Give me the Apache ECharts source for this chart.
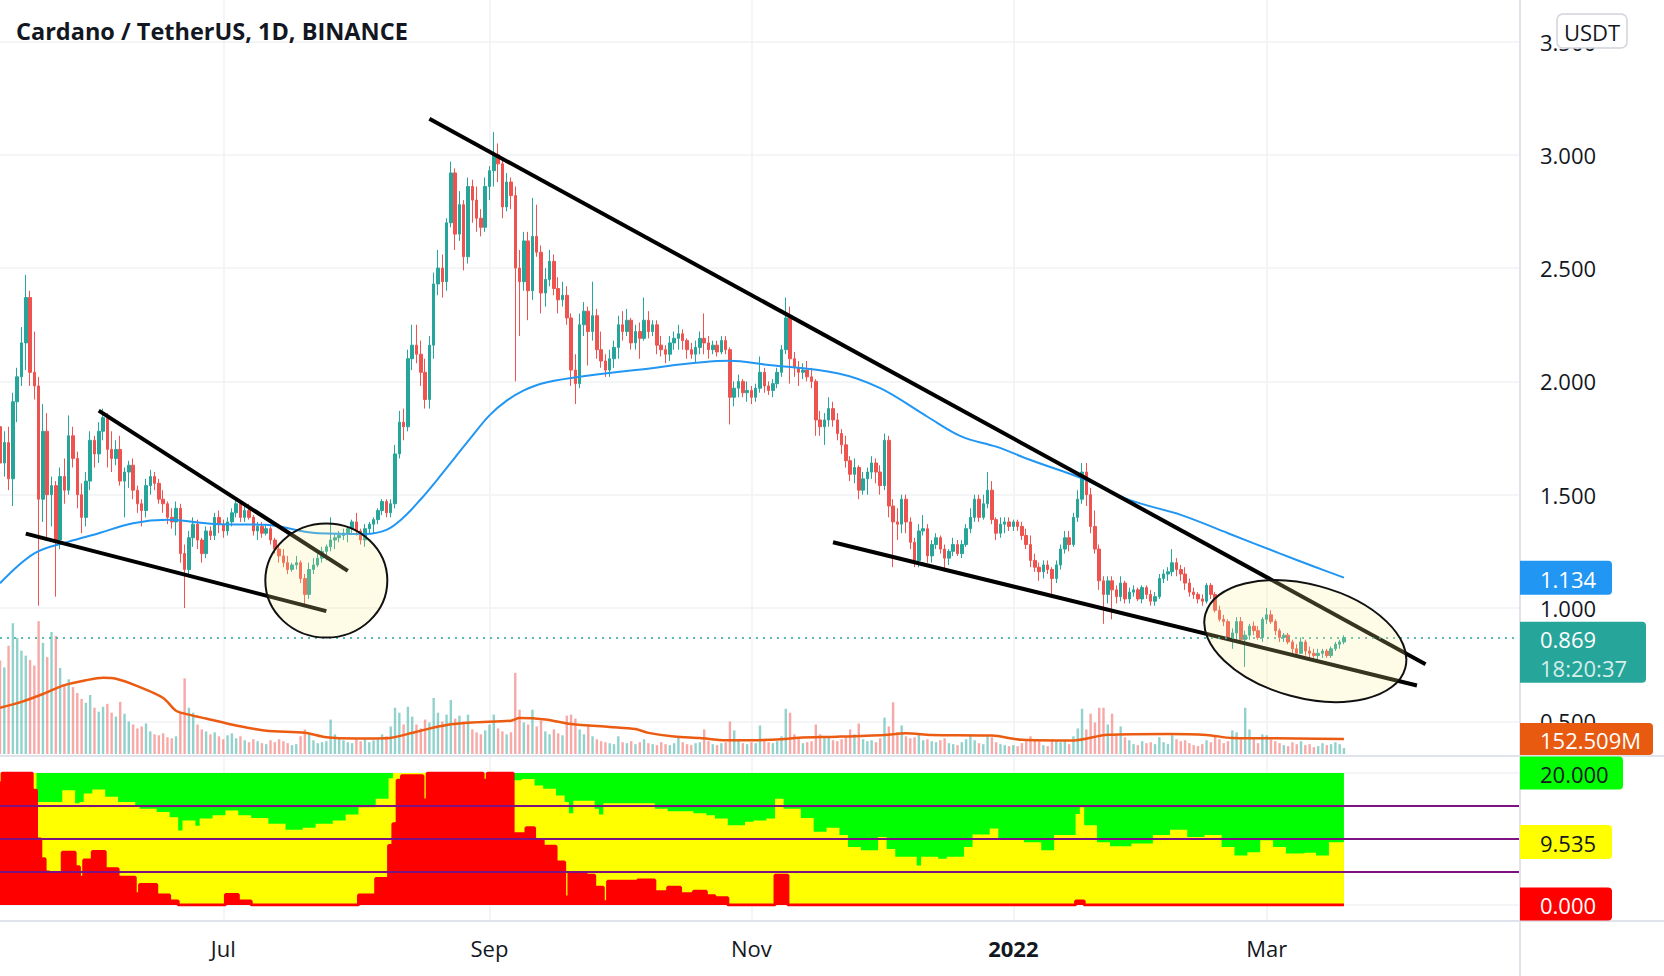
<!DOCTYPE html>
<html>
<head>
<meta charset="utf-8">
<script src="https://cdn.jsdelivr.net/npm/echarts@6/dist/echarts.min.js"></script>
<style>
html,body{margin:0;padding:0;background:#ffffff;}
#c{width:1664px;height:976px;}
</style>
</head>
<body>
<div id="c"></div>
<script>
// ---------------- DATA ----------------
const startDate = '2021-05-10';      // first (half visible) daily candle
const axisEndDate = '2022-04-29';    // time scale runs on to the price-scale border
const titleText = 'Cardano / TetherUS, 1D, BINANCE';
const currencyText = 'USDT';
const countdownText = '18:20:37';

// daily candles [open, high, low, close]
const candles = [
[1.80,1.86,1.52,1.64],[1.64,1.78,1.58,1.73],[1.73,1.80,1.52,1.57],[1.57,1.95,1.45,1.91],[1.91,2.06,1.82,2.02],[2.02,2.24,1.98,2.17],[2.17,2.47,2.05,2.37],[2.37,2.40,1.98,2.04],[2.04,2.22,1.92,1.98],[1.98,2.02,1.01,1.48],
[1.48,1.90,1.38,1.78],[1.78,1.86,1.30,1.50],[1.50,1.58,1.36,1.54],[1.54,1.56,1.05,1.30],[1.30,1.62,1.26,1.58],[1.58,1.66,1.46,1.52],[1.52,1.85,1.50,1.76],[1.76,1.80,1.62,1.66],[1.66,1.69,1.44,1.50],[1.50,1.55,1.33,1.40],
[1.40,1.60,1.36,1.56],[1.56,1.78,1.52,1.74],[1.74,1.76,1.62,1.68],[1.68,1.82,1.64,1.78],[1.78,1.88,1.74,1.84],[1.84,1.86,1.62,1.70],[1.70,1.78,1.60,1.66],[1.66,1.74,1.63,1.70],[1.70,1.76,1.54,1.56],[1.56,1.62,1.40,1.60],
[1.60,1.65,1.53,1.63],[1.63,1.66,1.48,1.52],[1.52,1.54,1.42,1.46],[1.46,1.48,1.36,1.43],[1.43,1.57,1.40,1.54],[1.54,1.61,1.50,1.58],[1.58,1.60,1.52,1.55],[1.55,1.57,1.46,1.48],[1.48,1.52,1.42,1.46],[1.46,1.47,1.37,1.40],
[1.40,1.44,1.35,1.38],[1.38,1.47,1.32,1.44],[1.44,1.46,1.20,1.24],[1.24,1.28,1.00,1.17],[1.17,1.34,1.14,1.31],[1.31,1.40,1.27,1.37],[1.37,1.39,1.26,1.30],[1.30,1.31,1.20,1.24],[1.24,1.36,1.22,1.34],[1.34,1.36,1.30,1.32],
[1.32,1.42,1.30,1.40],[1.40,1.43,1.33,1.37],[1.37,1.39,1.31,1.34],[1.34,1.40,1.32,1.38],[1.38,1.44,1.36,1.42],[1.42,1.49,1.40,1.46],[1.46,1.47,1.38,1.40],[1.40,1.45,1.38,1.43],[1.43,1.46,1.39,1.40],[1.40,1.41,1.32,1.34],
[1.34,1.38,1.30,1.36],[1.36,1.38,1.31,1.33],[1.33,1.37,1.32,1.35],[1.35,1.36,1.28,1.30],[1.30,1.31,1.24,1.26],[1.26,1.28,1.20,1.23],[1.23,1.26,1.18,1.20],[1.20,1.23,1.15,1.17],[1.17,1.20,1.16,1.19],[1.19,1.23,1.17,1.20],
[1.20,1.21,1.11,1.13],[1.13,1.15,1.01,1.06],[1.06,1.20,1.04,1.17],[1.17,1.22,1.15,1.19],[1.19,1.24,1.18,1.22],[1.22,1.27,1.20,1.25],[1.25,1.28,1.21,1.27],[1.27,1.40,1.25,1.30],[1.30,1.33,1.26,1.31],[1.31,1.34,1.29,1.32],
[1.32,1.35,1.30,1.33],[1.33,1.36,1.29,1.35],[1.35,1.39,1.33,1.38],[1.38,1.42,1.32,1.34],[1.34,1.35,1.28,1.30],[1.30,1.37,1.27,1.35],[1.35,1.38,1.33,1.37],[1.37,1.40,1.33,1.39],[1.39,1.44,1.37,1.43],[1.43,1.48,1.41,1.47],
[1.47,1.48,1.40,1.42],[1.42,1.48,1.40,1.46],[1.46,1.72,1.44,1.68],[1.68,1.87,1.66,1.82],[1.82,1.88,1.74,1.80],[1.80,2.14,1.78,2.10],[2.10,2.25,2.05,2.16],[2.16,2.25,2.08,2.12],[2.12,2.18,1.98,2.04],[2.04,2.10,1.88,1.92],
[1.92,2.20,1.88,2.16],[2.16,2.48,2.10,2.43],[2.43,2.58,2.38,2.50],[2.50,2.56,2.37,2.44],[2.44,2.72,2.40,2.70],[2.70,2.97,2.68,2.92],[2.92,2.94,2.58,2.65],[2.65,2.84,2.62,2.78],[2.78,2.80,2.49,2.55],[2.55,2.90,2.52,2.86],
[2.86,2.89,2.70,2.80],[2.80,2.86,2.66,2.72],[2.72,2.76,2.64,2.68],[2.68,2.90,2.66,2.86],[2.86,2.95,2.80,2.93],[2.93,3.10,2.86,3.00],[3.00,3.05,2.88,2.96],[2.96,2.98,2.72,2.77],[2.77,2.92,2.75,2.88],[2.88,2.90,2.76,2.82],
[2.82,2.86,2.00,2.50],[2.50,2.58,2.20,2.44],[2.44,2.66,2.40,2.62],[2.62,2.66,2.27,2.40],[2.40,2.81,2.36,2.64],[2.64,2.78,2.55,2.57],[2.57,2.60,2.30,2.39],[2.39,2.50,2.33,2.45],[2.45,2.58,2.42,2.53],[2.53,2.56,2.38,2.41],
[2.41,2.46,2.30,2.36],[2.36,2.44,2.33,2.38],[2.38,2.42,2.25,2.28],[2.28,2.30,1.98,2.05],[2.05,2.12,1.90,1.99],[1.99,2.30,1.97,2.25],[2.25,2.35,2.20,2.31],[2.31,2.33,2.07,2.22],[2.22,2.44,2.18,2.29],[2.29,2.32,2.10,2.14],
[2.14,2.22,2.06,2.09],[2.09,2.12,2.02,2.05],[2.05,2.14,2.02,2.10],[2.10,2.18,2.06,2.15],[2.15,2.29,2.10,2.25],[2.25,2.31,2.18,2.22],[2.22,2.32,2.20,2.27],[2.27,2.28,2.14,2.17],[2.17,2.25,2.14,2.22],[2.22,2.26,2.10,2.19],
[2.19,2.37,2.18,2.27],[2.27,2.31,2.19,2.22],[2.22,2.27,2.20,2.25],[2.25,2.27,2.12,2.16],[2.16,2.20,2.11,2.14],[2.14,2.16,2.08,2.12],[2.12,2.20,2.09,2.17],[2.17,2.22,2.14,2.19],[2.19,2.25,2.14,2.21],[2.21,2.23,2.14,2.18],
[2.18,2.19,2.10,2.14],[2.14,2.17,2.10,2.12],[2.12,2.18,2.08,2.15],[2.15,2.22,2.12,2.19],[2.19,2.30,2.12,2.17],[2.17,2.20,2.10,2.14],[2.14,2.18,2.12,2.16],[2.16,2.18,2.11,2.13],[2.13,2.20,2.12,2.18],[2.18,2.20,2.12,2.14],
[2.14,2.15,1.81,1.93],[1.93,2.00,1.89,1.97],[1.97,2.03,1.93,2.00],[2.00,2.01,1.93,1.95],[1.95,2.00,1.91,1.96],[1.96,1.98,1.90,1.93],[1.93,1.99,1.91,1.97],[1.97,2.11,1.95,2.04],[2.04,2.06,1.95,1.98],[1.98,2.00,1.94,1.96],
[1.96,2.01,1.93,1.99],[1.99,2.06,1.97,2.04],[2.04,2.16,2.02,2.14],[2.14,2.37,2.12,2.28],[2.28,2.33,1.99,2.10],[2.10,2.13,2.02,2.06],[2.06,2.09,1.98,2.04],[2.04,2.08,2.01,2.05],[2.05,2.09,2.00,2.02],[2.02,2.06,1.97,2.00],
[2.00,2.01,1.76,1.83],[1.83,1.87,1.76,1.80],[1.80,1.86,1.72,1.83],[1.83,1.93,1.80,1.88],[1.88,1.91,1.80,1.83],[1.83,1.86,1.74,1.77],[1.77,1.79,1.68,1.72],[1.72,1.76,1.62,1.65],[1.65,1.67,1.56,1.59],[1.59,1.66,1.55,1.62],
[1.62,1.63,1.48,1.52],[1.52,1.60,1.50,1.57],[1.57,1.62,1.50,1.60],[1.60,1.67,1.57,1.64],[1.64,1.66,1.55,1.60],[1.60,1.63,1.50,1.54],[1.54,1.77,1.52,1.74],[1.74,1.76,1.40,1.45],[1.45,1.48,1.18,1.38],[1.38,1.44,1.30,1.37],
[1.37,1.50,1.33,1.48],[1.48,1.50,1.33,1.38],[1.38,1.40,1.26,1.29],[1.29,1.31,1.18,1.21],[1.21,1.37,1.18,1.34],[1.34,1.41,1.32,1.35],[1.35,1.37,1.20,1.23],[1.23,1.30,1.20,1.28],[1.28,1.33,1.26,1.31],[1.31,1.32,1.24,1.26],
[1.26,1.28,1.17,1.22],[1.22,1.26,1.19,1.25],[1.25,1.31,1.23,1.28],[1.28,1.30,1.23,1.24],[1.24,1.30,1.22,1.28],[1.28,1.37,1.27,1.35],[1.35,1.44,1.33,1.40],[1.40,1.50,1.38,1.48],[1.48,1.50,1.38,1.40],[1.40,1.50,1.39,1.46],
[1.46,1.60,1.44,1.52],[1.52,1.56,1.37,1.39],[1.39,1.40,1.30,1.33],[1.33,1.40,1.31,1.37],[1.37,1.40,1.33,1.38],[1.38,1.40,1.34,1.36],[1.36,1.39,1.34,1.38],[1.38,1.39,1.34,1.36],[1.36,1.38,1.30,1.32],[1.32,1.35,1.26,1.28],
[1.28,1.32,1.18,1.21],[1.21,1.24,1.16,1.18],[1.18,1.20,1.12,1.16],[1.16,1.21,1.13,1.19],[1.19,1.21,1.15,1.17],[1.17,1.18,1.06,1.13],[1.13,1.21,1.11,1.19],[1.19,1.28,1.17,1.26],[1.26,1.34,1.24,1.31],[1.31,1.34,1.25,1.28],
[1.28,1.42,1.27,1.40],[1.40,1.52,1.38,1.48],[1.48,1.64,1.46,1.60],[1.60,1.64,1.45,1.50],[1.50,1.53,1.33,1.36],[1.36,1.43,1.24,1.26],[1.26,1.28,1.08,1.12],[1.12,1.14,0.93,1.06],[1.06,1.14,1.02,1.12],[1.12,1.14,0.95,1.08],
[1.08,1.10,1.02,1.05],[1.05,1.14,1.03,1.11],[1.11,1.12,1.02,1.04],[1.04,1.09,1.02,1.07],[1.07,1.10,1.05,1.08],[1.08,1.09,1.03,1.04],[1.04,1.10,1.02,1.09],[1.09,1.10,1.04,1.06],[1.06,1.08,1.01,1.03],[1.03,1.07,1.01,1.05],
[1.05,1.15,1.04,1.13],[1.13,1.17,1.11,1.15],[1.15,1.18,1.12,1.16],[1.16,1.26,1.14,1.20],[1.20,1.22,1.14,1.17],[1.17,1.19,1.12,1.15],[1.15,1.18,1.08,1.11],[1.11,1.13,1.05,1.07],[1.07,1.09,1.04,1.06],[1.06,1.07,1.02,1.04],
[1.04,1.06,1.01,1.03],[1.03,1.11,1.02,1.10],[1.10,1.11,1.04,1.06],[1.06,1.07,0.98,0.99],[0.99,1.01,0.94,0.95],[0.95,0.97,0.92,0.94],[0.94,0.95,0.86,0.86],[0.86,0.91,0.82,0.89],[0.89,0.96,0.86,0.94],[0.94,0.96,0.85,0.86],
[0.86,0.90,0.74,0.88],[0.88,0.93,0.86,0.92],[0.92,0.94,0.88,0.90],[0.90,0.92,0.86,0.87],[0.87,0.96,0.85,0.95],[0.95,1.00,0.93,0.97],[0.97,0.99,0.93,0.94],[0.94,0.95,0.88,0.90],[0.90,0.91,0.85,0.87],[0.87,0.89,0.85,0.88],
[0.88,0.89,0.84,0.85],[0.85,0.86,0.80,0.82],[0.82,0.84,0.79,0.80],[0.80,0.87,0.80,0.85],[0.85,0.86,0.79,0.81],[0.81,0.83,0.78,0.80],[0.80,0.82,0.78,0.79],[0.79,0.82,0.77,0.80],[0.80,0.82,0.78,0.81],[0.81,0.82,0.78,0.79],
[0.79,0.83,0.78,0.82],[0.82,0.85,0.81,0.84],[0.84,0.86,0.82,0.85],[0.85,0.88,0.84,0.869]
];

// daily volume, millions of ADA
const volumes = [
950,880,1100,1330,1180,1050,1000,955,900,1350,
1130,985,1240,1200,875,700,760,680,620,560,
520,600,470,430,480,510,420,380,530,410,
330,300,260,280,310,230,200,190,210,170,
160,180,420,770,470,420,300,250,230,200,
220,180,150,190,210,160,180,140,120,150,
130,110,100,140,120,150,130,110,90,100,
180,250,200,140,110,120,130,350,200,170,
140,120,110,150,130,160,120,140,150,200,
180,280,470,420,300,480,380,300,260,350,
320,570,420,330,400,550,360,390,330,400,
250,220,200,240,300,400,260,230,200,220,
825,450,320,300,450,280,340,230,200,250,
210,190,390,400,360,250,200,300,180,150,
130,120,110,100,180,120,110,130,100,120,
150,110,100,90,120,100,90,110,180,120,
100,90,110,120,250,130,100,90,110,120,
330,240,150,110,100,120,110,290,150,120,
110,130,180,460,420,200,160,110,120,130,
300,200,170,180,140,130,150,170,250,200,
310,150,130,140,120,160,370,280,525,220,
290,180,160,170,200,140,150,130,120,140,
160,110,100,90,120,150,200,140,110,100,
180,170,120,100,90,80,90,80,110,130,
180,140,130,90,80,150,140,120,130,100,
180,260,460,250,410,320,470,470,300,410,
200,280,170,140,100,90,130,110,120,100,
170,120,100,190,150,130,140,110,90,80,
100,140,120,180,150,110,130,240,220,150,
470,250,150,110,200,190,150,130,110,90,
80,120,100,130,90,100,70,80,110,90,
100,120,100,60
];

// moving average of price [day index, value]
const priceMA = [[0,1.109],[8,1.241],[16,1.293],[23,1.33],[31,1.374],[39,1.389],[50,1.371],[62,1.367],[74,1.33],[85,1.327],[90,1.345],[94,1.40],[98,1.48],[102,1.57],[106,1.665],[110,1.76],[114,1.85],[118,1.915],[122,1.96],[126,1.99],[133,2.015],[148,2.05],[170,2.091],[178,2.075],[195,2.036],[205,1.97],[216,1.844],[224,1.756],[232,1.712],[240,1.653],[252,1.572],[263,1.477],[275,1.411],[286,1.33],[298,1.241],[306,1.183],[313,1.134]];

// moving average of volume (millions)
const volumeMA = [[0,470],[5,530],[10,610],[15,700],[20,750],[24,775],[27,765],[32,690],[38,570],[41,440],[44,400],[48,360],[55,290],[62,237],[71,217],[76,170],[83,158],[90,160],[97,227],[104,295],[110,320],[119,339],[121,365],[127,350],[133,305],[142,275],[148,254],[151,215],[157,178],[163,162],[169,140],[175,140],[182,150],[186,165],[195,176],[206,194],[211,210],[217,194],[231,187],[238,145],[250,138],[258,195],[272,204],[281,194],[287,163],[302,158],[313,152.509]];

// lower indicator: top of red zone and top of yellow zone (green fills to 20)
const redLevel = [
18.5,20,20,20,20,20,20,20,17.4,10,
7,5,4.7,4.7,4.7,8,8,8,5.8,4.2,
6.8,6.8,8.1,8.1,8.1,5.5,5.5,5.5,4.2,4.2,
4.2,4.2,1.7,3.1,3.1,3.1,3.1,1.5,1.5,1.5,
0.6,0.6,0,0,0,0,0,0,0,0,
0,0,0,1.6,1.6,1.6,0.6,0.6,0.6,0,
0,0,0,0,0,0,0,0,0,0,
0,0,0,0,0,0,0,0,0,0,
0,0,0,0,1.5,1.5,1.5,1.5,4,4,
4,9,12.3,18.9,19.6,19.6,19.6,19.6,19.6,15.9,
20,20,20,20,20,20,20,20,20,20,
20,20,20,18.9,20,20,20,20,20,20,
10.8,10.8,10.8,11.7,11.7,9.8,9.8,8.9,8.9,8.9,
6.5,6.5,1.2,4.8,4.8,4.8,4.8,4.5,4.5,2.7,
2.7,0.5,3.6,3.6,3.6,3.6,3.6,3.6,3.6,3.8,
3.8,3.8,3.8,2,2,2,2.7,2.7,2.7,1.7,
1.7,1.7,2.1,2.1,2.1,1.4,1.4,1.1,1.1,1.1,
0,0,0,0,0,0,0,0,0,0,
0,4.5,4.5,4.5,0,0,0,0,0,0,
0,0,0,0,0,0,0,0,0,0,
0,0,0,0,0,0,0,0,0,0,
0,0,0,0,0,0,0,0,0,0,
0,0,0,0,0,0,0,0,0,0,
0,0,0,0,0,0,0,0,0,0,
0,0,0,0,0,0,0,0,0,0,
0,0.6,0.6,0,0,0,0,0,0,0,
0,0,0,0,0,0,0,0,0,0,
0,0,0,0,0,0,0,0,0,0,
0,0,0,0,0,0,0,0,0,0,
0,0,0,0,0,0,0,0,0,0,
0,0,0,0,0,0,0,0,0,0,
0,0,0,0
];
const yellowLevel = [
20,20,20,20,20,20,20,20,20,15.6,
15.6,15.6,15.6,15.6,15.6,17.4,17.4,17.4,15.4,15.6,
16.9,16.9,17.5,17.5,17.5,16.4,16.4,16.4,15.6,15.6,
15.6,15.6,15,14.6,14.6,14.6,14.6,14.1,14.1,14.1,
13.3,13.3,11.3,12.8,12.8,12.8,12,13.1,13.1,13.1,
13.6,13.6,13.6,14.3,14.3,14.3,13.6,13.6,13.6,13.2,
13.2,13.2,13.2,12.3,12.3,12.3,12.3,11.4,11.4,11.4,
11.4,11.7,11.7,11.7,12.3,12.3,12.3,12.3,12.8,12.8,
12.8,13.7,13.7,13.7,14.8,14.8,14.8,14.8,16.1,16.1,
16.1,19.2,20,20,20,20,20,20,20,20,
20,20,20,20,20,20,20,20,20,20,
20,20,20,20,20,20,20,20,20,20,
18.9,18.9,19.1,19.1,19.1,18.1,18.1,17.6,17.6,17.6,
16.6,16.6,15.6,13.9,15.8,15.8,15.8,15.8,15.8,14.6,
13.7,15.4,15.4,15.4,15.4,15.4,15.4,15.4,15.4,15.4,
15.4,15.4,15.4,14.6,14.6,14.6,14.2,14.2,14.2,14.2,
14.2,14.2,13.9,13.9,13.9,13.6,13.6,13.1,13.1,13.1,
12.1,12.1,12.1,12.1,12.6,12.6,12.8,12.8,12.8,13.1,
13.1,16.1,16.1,14.6,14.6,14.6,14.6,13.2,13.2,13.2,
11.1,11.1,11.1,11.7,11.7,11.7,10.6,10.6,8.8,8.8,
8.8,8.3,8.3,8.3,8.3,10.3,10.3,8.5,8.5,7.3,
7.3,7.3,7.3,7.3,6,7.3,7.3,7.3,7.3,7,
7,7.3,7.3,7.3,7.3,8.8,8.8,10.7,10.7,10.7,
10.7,11.6,11.6,10,10,10,10,10,10,9.5,
9.5,9.5,9.5,8.3,8.3,8.3,10.6,10.6,10.6,10.6,
10.6,13.8,14.8,12.1,12.1,12.1,9.5,9.5,9.5,8.9,
8.9,8.9,8.9,8.9,9.3,9.3,9.3,9.3,9.3,10.6,
10.6,10.6,10.6,11.4,11.4,11.4,11.4,10.3,10.3,10.3,
10.3,10.6,10.6,10.6,10.6,8.8,8.8,8.8,7.5,7.5,
7.5,8,8,8,9.8,9.8,9.8,8.8,8.8,8.8,
7.8,7.8,7.8,7.8,7.9,7.9,7.9,7.5,7.5,7.5,
9.5,9.5,9.5,9.535
];
const greenLevel = 20;
const bandLevels = [5, 10, 15];

// time-axis labels (day -> text)
const monthLabels = {'2021-07-01':'Jul','2021-09-01':'Sep','2021-11-01':'Nov','2022-01-01':'2022','2022-03-01':'Mar'};
const boldLabels = ['2022-01-01'];
// price scale
const priceMin = 0.5, priceMax = 3.5, priceStep = 0.5;

// drawn trend lines [[day index, price],[day index, price]]
const trendLines = [
  [[23,1.871],[81,1.164]],
  [[6,1.328],[76,0.986]],
  [[100,3.159],[332,0.752]],
  [[194,1.290],[330,0.658]]
];
// drawn ellipses: centre [day index, price]
const ellipseCentres = [[76,1.121],[304,0.854]];

// ---------------- BUILD ----------------
function buildDates(s, e){
  const out = []; let t = Date.parse(s + 'T00:00:00Z'); const end = Date.parse(e + 'T00:00:00Z');
  while (t <= end) { out.push(new Date(t).toISOString().slice(0,10)); t += 86400000; }
  return out;
}
const dates = buildDates(startDate, axisEndDate);
const n = candles.length;
const dataDates = dates.slice(0, n);

const UP = '#26a69a', DOWN = '#ef5350';
const UPV = 'rgba(38,166,154,0.5)', DOWNV = 'rgba(239,83,80,0.5)';
const FONT = '"Open Sans", "Noto Sans", sans-serif';
const TXT = '#131722';
const GRIDC = '#f0f2f5';
const AXIS_X = 1520, W = 1664, H = 976;
const RIGHT = W - AXIS_X;
const isLabel = (i, v) => Object.prototype.hasOwnProperty.call(monthLabels, v);

const chart = echarts.init(document.getElementById('c'), null, {renderer:'svg', width:W, height:H});

const catAxis = (g, extra) => Object.assign({type:'category', gridIndex:g, data:dates, boundaryGap:false}, extra);

const option = {
  animation:false,
  backgroundColor:'#ffffff',
  grid:[
    {left:0, right:RIGHT, top:41.5, height:679.8},
    {left:0, right:RIGHT, top:604, height:150},
    {left:0, right:RIGHT, top:773, height:132},
    {left:0, right:RIGHT, top:0, height:921}
  ],
  xAxis:[
    catAxis(0,{show:false}),
    catAxis(1,{show:false}),
    catAxis(2,{axisLine:{show:false}, axisTick:{show:false}, splitLine:{show:false},
      axisLabel:{show:true, interval:isLabel, margin:30, color:TXT, fontSize:22, fontFamily:FONT, lineHeight:26,
        formatter:(v)=> boldLabels.indexOf(v) >= 0 ? '{b|' + monthLabels[v] + '}' : (monthLabels[v] || ''),
        rich:{b:{fontWeight:'bold', fontSize:22, color:TXT, fontFamily:FONT, lineHeight:26}}}}),
    catAxis(3,{axisLine:{show:false}, axisTick:{show:false}, axisLabel:{show:false},
      splitLine:{show:true, interval:isLabel, lineStyle:{color:GRIDC, width:1.5}}})
  ],
  yAxis:[
    {type:'value', gridIndex:0, position:'right', min:priceMin, max:priceMax, interval:priceStep,
      axisLine:{show:false}, axisTick:{show:false},
      axisLabel:{color:TXT, fontSize:22, fontFamily:FONT, margin:20, formatter:(v)=>v.toFixed(3)},
      splitLine:{show:true, lineStyle:{color:GRIDC, width:1.5}}},
    {type:'value', gridIndex:1, show:false, min:0, max:1525},
    {type:'value', gridIndex:2, position:'right', min:0, max:greenLevel, interval:greenLevel,
      axisLine:{show:false}, axisTick:{show:false}, axisLabel:{show:false},
      splitLine:{show:true, lineStyle:{color:GRIDC, width:1.5}}},
    {type:'value', gridIndex:3, show:false, min:0, max:1}
  ],
  series:[
    {type:'bar', name:'Volume', xAxisIndex:1, yAxisIndex:1, barWidth:2.4, z:1,
      data: volumes.map((v,i)=>({value:v, itemStyle:{color: candles[i][3] >= candles[i][0] ? UPV : DOWNV}}))},
    {type:'line', name:'Volume MA', xAxisIndex:1, yAxisIndex:1, data:volumeMA, smooth:0.3, showSymbol:false, z:2,
      lineStyle:{color:'#ec5b12', width:2.5}},
    {type:'candlestick', name:'ADAUSDT', xAxisIndex:0, yAxisIndex:0, barWidth:3, z:3,
      data: candles.map(c=>[c[0], c[3], c[2], c[1]]),
      itemStyle:{color:UP, color0:DOWN, borderColor:UP, borderColor0:DOWN, borderWidth:1},
      markLine:{silent:true, symbol:['none','none'], label:{show:false}, animation:false,
        data: trendLines.map(t=>[
          {coord:t[0], symbol:'none', lineStyle:{color:'#000000', width:4, type:'solid'}},
          {coord:t[1], symbol:'none', lineStyle:{color:'#000000', width:4, type:'solid'}}
        ]).concat([{yAxis:candles[n-1][3], symbol:'none', lineStyle:{color:UP, width:1.5, type:[2,5]}}])
      }},
    {type:'line', name:'MA', xAxisIndex:0, yAxisIndex:0, data:priceMA, smooth:0.35, showSymbol:false, z:4,
      lineStyle:{color:'#2196f3', width:2}},
    {type:'line', name:'green', xAxisIndex:2, yAxisIndex:2, step:'middle', showSymbol:false, z:2,
      data: dataDates.map(()=>greenLevel), lineStyle:{width:0}, areaStyle:{color:'#00ff00', opacity:1}},
    {type:'line', name:'yellow', xAxisIndex:2, yAxisIndex:2, step:'middle', showSymbol:false, z:2,
      data: yellowLevel, lineStyle:{width:0}, areaStyle:{color:'#ffff00', opacity:1}},
    {type:'line', name:'red', xAxisIndex:2, yAxisIndex:2, step:'middle', showSymbol:false, z:2,
      data: redLevel, lineStyle:{color:'#ff0000', width:3}, areaStyle:{color:'#ff0000', opacity:1},
      markLine:{silent:true, symbol:['none','none'], label:{show:false}, animation:false,
        data: bandLevels.map(v=>({yAxis:v, lineStyle:{color:'#7d1380', width:2, type:'solid'}}))}}
  ]
};
chart.setOption(option);

// ---------------- overlay: drawings, price-scale tags, title ----------------
const px = (g, x, y) => chart.convertToPixel({gridIndex:g}, [x, y]);
const yOf = (g, v) => px(g, 0, v)[1];
function txt(x, y, s, color, size, weight, align){
  return {type:'text', x:x, y:y, z:101, style:{text:s, fill:color, font:(weight||'normal') + ' ' + size + 'px ' + FONT,
    textAlign:align||'left', textVerticalAlign:'middle', align:align||'left', verticalAlign:'middle'}};
}
function tag(y, w, h, bg, s, color){
  return [
    {type:'rect', z:100, shape:{x:AXIS_X, y:y - h/2, width:w, height:h, r:[0,4,4,0]}, style:{fill:bg}},
    txt(AXIS_X + 20, y + 1, s, color, 22)
  ];
}
const lastMA = priceMA[priceMA.length-1][1];
const lastVolMA = volumeMA[volumeMA.length-1][1];
const lastClose = candles[n-1][3];
const lastYellow = yellowLevel[yellowLevel.length-1];
const lastRed = redLevel[redLevel.length-1];

const els = [];
// ellipses
const e1 = px(0, ellipseCentres[0][0], ellipseCentres[0][1]);
const e2 = px(0, ellipseCentres[1][0], ellipseCentres[1][1]);
const ellStyle = {fill:'rgba(250,240,140,0.22)', stroke:'#111111', lineWidth:2};
els.push({type:'ellipse', x:e1[0], y:e1[1], z:20, shape:{cx:0, cy:0, rx:61, ry:57}, style:ellStyle});
els.push({type:'ellipse', x:e2[0], y:e2[1], z:20, rotation:-15*Math.PI/180, shape:{cx:0, cy:0, rx:103.5, ry:56.6}, style:ellStyle});
// pane separators and price-scale border
const sep = {stroke:'#e0e3eb', lineWidth:2};
els.push({type:'line', z:50, shape:{x1:AXIS_X, y1:0, x2:AXIS_X, y2:H}, style:sep});
els.push({type:'line', z:50, shape:{x1:0, y1:756, x2:W, y2:756}, style:sep});
els.push({type:'line', z:50, shape:{x1:0, y1:921, x2:W, y2:921}, style:sep});
// title
els.push(txt(16, 31, titleText, TXT, 23.5, 'bold'));
// currency box
els.push({type:'rect', z:100, shape:{x:1557, y:14, width:70, height:34, r:6}, style:{fill:'#ffffff', stroke:'#d1d4dc', lineWidth:1.5}});
els.push(txt(1592, 32, currencyText, TXT, 22, 'normal', 'center'));
// tags
tag(yOf(0, lastMA), 92, 34, '#2196f3', lastMA.toFixed(3), '#ffffff').forEach(e=>els.push(e));
const yc = yOf(0, lastClose);
els.push({type:'rect', z:100, shape:{x:AXIS_X, y:yc - 16, width:126, height:61, r:[0,4,4,0]}, style:{fill:UP}});
els.push(txt(AXIS_X + 20, yc + 1, lastClose.toFixed(3), '#ffffff', 22));
els.push(txt(AXIS_X + 20, yc + 30, countdownText, 'rgba(255,255,255,0.82)', 22));
tag(yOf(1, lastVolMA), 133, 32, '#e85a10', lastVolMA.toFixed(3) + 'M', '#ffffff').forEach(e=>els.push(e));
tag(yOf(2, greenLevel), 103, 33, '#00ff00', greenLevel.toFixed(3), TXT).forEach(e=>els.push(e));
tag(yOf(2, lastYellow), 92, 34, '#ffff00', lastYellow.toFixed(3), TXT).forEach(e=>els.push(e));
tag(yOf(2, lastRed) - 1, 92, 33, '#ff0000', lastRed.toFixed(3), '#ffffff').forEach(e=>els.push(e));

chart.setOption({graphic:{elements:els}});
</script>
</body>
</html>
